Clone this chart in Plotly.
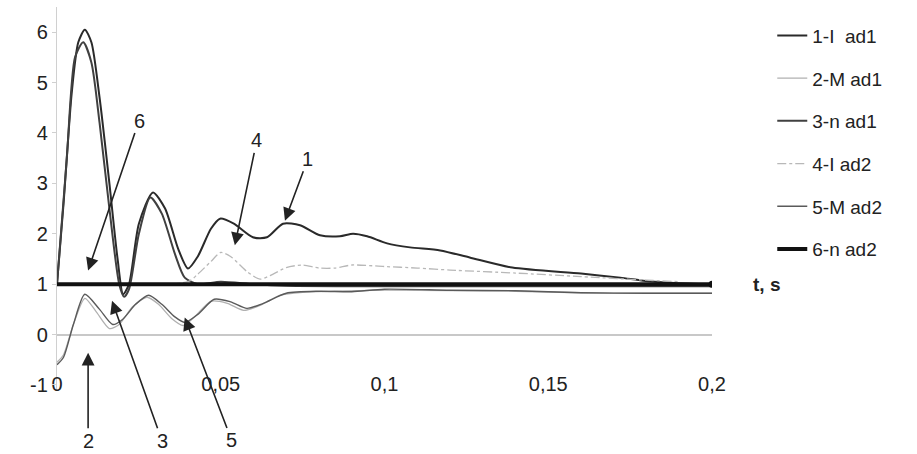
import plotly.graph_objects as go

# ---- data ----
t1 = [0, 0.002, 0.0045, 0.0065, 0.0085, 0.0105, 0.013, 0.016, 0.0185, 0.0202, 0.022, 0.025, 0.0293,
      0.033, 0.037, 0.040, 0.043, 0.047, 0.0498, 0.054, 0.0598, 0.0641, 0.069, 0.0742, 0.0803, 0.0864,
      0.0904, 0.0947, 0.1008, 0.1078, 0.117, 0.126, 0.139, 0.160, 0.172, 0.179, 0.187, 0.198]
v1 = [1.0, 2.6, 4.8, 5.8, 6.05, 5.8, 4.7, 3.0, 1.5, 0.8, 1.0, 2.2, 2.82,
      2.5, 1.7, 1.31, 1.55, 2.1, 2.3, 2.2, 1.93, 1.93, 2.2, 2.17, 1.97, 1.95,
      2.0, 1.95, 1.81, 1.73, 1.67, 1.53, 1.33, 1.21, 1.13, 1.07, 1.03, 1.0]

t2 = [0, 0.002, 0.005, 0.0085, 0.012, 0.016, 0.019, 0.023, 0.0275, 0.031, 0.035, 0.0385, 0.042,
      0.047, 0.052, 0.057, 0.062, 0.068, 0.075, 0.085, 0.1, 0.12, 0.14, 0.16, 0.18, 0.2]
v2 = [-0.55, -0.4, 0.2, 0.72, 0.45, 0.12, 0.2, 0.55, 0.74, 0.6, 0.32, 0.18, 0.35,
      0.66, 0.62, 0.48, 0.58, 0.78, 0.84, 0.86, 0.88, 0.87, 0.86, 0.83, 0.82, 0.82]

t3 = [0, 0.003, 0.0055, 0.008, 0.0105, 0.013, 0.016, 0.019, 0.0205, 0.022, 0.025, 0.0285,
      0.032, 0.036, 0.039, 0.043, 0.05, 0.06, 0.07, 0.1, 0.15, 0.2]
v3 = [1.0, 3.5, 5.5, 5.8, 5.4, 4.2, 2.5, 1.0, 0.75, 0.9, 2.0, 2.72,
      2.4, 1.6, 1.13, 1.0, 1.05, 1.0, 0.97, 0.96, 0.96, 0.96]

t4 = [0, 0.04, 0.043, 0.047, 0.05, 0.053, 0.058, 0.062, 0.066, 0.07, 0.075, 0.08, 0.085,
      0.09, 0.1, 0.11, 0.12, 0.14, 0.16, 0.18, 0.19]
v4 = [1.0, 1.05, 1.2, 1.45, 1.63, 1.55, 1.25, 1.1, 1.2, 1.33, 1.38, 1.32, 1.32,
      1.38, 1.35, 1.32, 1.28, 1.22, 1.15, 1.08, 1.05]

t5 = [0, 0.002, 0.005, 0.0085, 0.013, 0.017, 0.02, 0.024, 0.028, 0.032, 0.036, 0.039, 0.043,
      0.048, 0.053, 0.058, 0.063, 0.07, 0.08, 0.09, 0.1, 0.12, 0.14, 0.16, 0.18, 0.2]
v5 = [-0.6, -0.45, 0.2, 0.8, 0.5, 0.2, 0.3, 0.6, 0.78, 0.6, 0.35, 0.24, 0.4,
      0.7, 0.65, 0.52, 0.62, 0.82, 0.86, 0.85, 0.9, 0.88, 0.87, 0.83, 0.82, 0.82]

t6 = [0, 0.05, 0.1, 0.15, 0.2]
v6 = [1, 1, 1, 1, 1]

names = ["1-I  ad1", "2-M ad1", "3-n ad1", "4-I ad2", "5-M ad2", "6-n ad2"]
x_ticks = [0, 0.05, 0.1, 0.15, 0.2]
x_ticktext = ["0", "0,05", "0,1", "0,15", "0,2"]
y_ticks = [-1, 0, 1, 2, 3, 4, 5, 6]
y_ticktext = ["-1", "0", "1", "2", "3", "4", "5", "6"]

FONT = "Liberation Sans, Arial, sans-serif"

styles = [
    dict(color="#2a2a2a", width=2.0, shape="spline", smoothing=0.7),
    dict(color="#b0b0b0", width=1.3, shape="spline", smoothing=0.7),
    dict(color="#404040", width=2.0, shape="spline", smoothing=0.7),
    dict(color="#b8b8b8", width=1.3, dash="dashdot", shape="spline", smoothing=0.7),
    dict(color="#5a5a5a", width=1.4, shape="spline", smoothing=0.7),
    dict(color="#111111", width=4.0),
]
series = [(t1, v1), (t2, v2), (t3, v3), (t4, v4), (t5, v5), (t6, v6)]

fig = go.Figure()
for i, (tt, vv) in enumerate(series):
    fig.add_trace(go.Scatter(
        x=tt, y=vv, mode="lines", name=names[i], line=styles[i],
        legendgroup=str(i), legendrank=i + 1,
    ))

# end dot on the thick line
fig.add_trace(go.Scatter(x=[t6[-1]], y=[v6[-1]], mode="markers",
                         marker=dict(color="#111", size=7), showlegend=False))

# arrows with labels: (label, tip t, tip v, ax, ay)
arrows = [
    ("6", 0.0095, 1.27, 51, -150),
    ("4", 0.0543, 1.77, 22, -105),
    ("1", 0.0696, 2.26, 23, -62),
    ("2", 0.0095, -0.36, 0, 88),
    ("3", 0.0168, 0.67, 50, 140),
    ("5", 0.0390, 0.34, 47, 123),
]
for lab, tx, ty, ax, ay in arrows:
    fig.add_annotation(x=tx, y=ty, xref="x", yref="y", text=lab, showarrow=True,
                       ax=ax, ay=ay, arrowhead=2, arrowsize=1.6, arrowwidth=1.6,
                       arrowcolor="#222", font=dict(family=FONT, size=20, color="#222"))

fig.add_annotation(x=1.06, y=1, xref="paper", yref="y", text="<b>t, s</b>", showarrow=False,
                   xanchor="left", yanchor="middle", font=dict(family=FONT, size=19, color="#222"))

fig.update_layout(
    width=917, height=454,
    margin=dict(l=57, r=205, t=7, b=64),
    paper_bgcolor="white", plot_bgcolor="white",
    font=dict(family=FONT, size=20, color="#222"),
    showlegend=True,
    legend=dict(x=1.092, y=0.975, xanchor="left", yanchor="top",
                font=dict(family=FONT, size=19, color="#222"),
                tracegroupgap=15, bgcolor="rgba(0,0,0,0)"),
    xaxis=dict(range=[0, 0.2], tickvals=x_ticks, ticktext=x_ticktext,
               showgrid=False, zeroline=False, showline=False, ticks="",
               anchor="free", position=0.052, tickfont=dict(size=20)),
    yaxis=dict(range=[-1.1, 6.5], tickvals=y_ticks, ticktext=y_ticktext,
               showgrid=False, zeroline=True, zerolinecolor="#c8c8c8", zerolinewidth=1.5,
               showline=True, linecolor="#d0d0d0", linewidth=1.2,
               ticks="outside", ticklen=4, tickcolor="#d0d0d0", tickfont=dict(size=20)),
)

fig.write_html("out.html")
